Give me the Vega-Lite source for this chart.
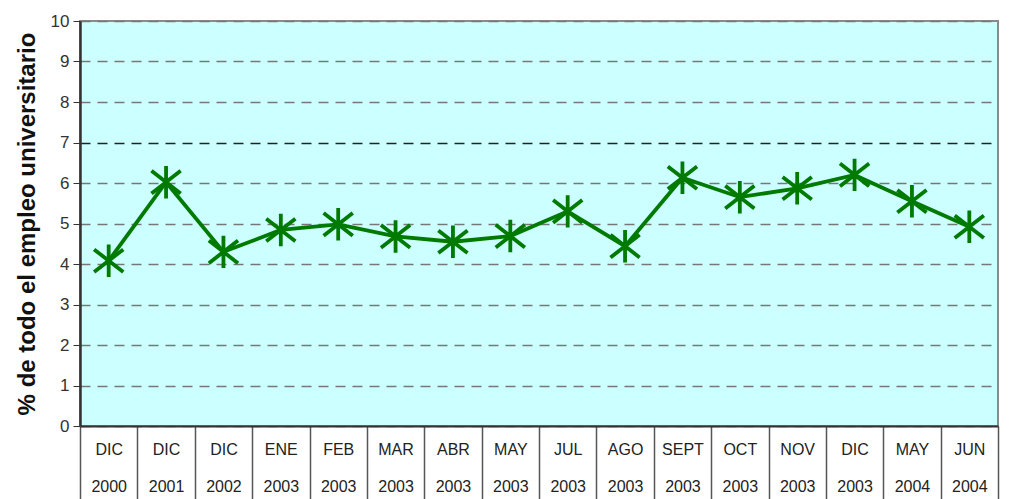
{
  "$schema": "https://vega.github.io/schema/vega-lite/v6.json",
  "width": 918,
  "height": 405,
  "autosize": {"type": "none"},
  "padding": {"left": 80, "top": 21, "right": 26, "bottom": 73},
  "background": "white",
  "config": {
    "view": {"fill": "#CCFFFF", "stroke": "#8a8a8a", "strokeWidth": 2},
    "font": "Liberation Sans"
  },
  "data": {
    "values": [
      {"periodo": "DIC|2000", "valor": 4.08},
      {"periodo": "DIC|2001", "valor": 6.02},
      {"periodo": "DIC|2002", "valor": 4.3},
      {"periodo": "ENE|2003", "valor": 4.84},
      {"periodo": "FEB|2003", "valor": 4.98},
      {"periodo": "MAR|2003", "valor": 4.68},
      {"periodo": "ABR|2003", "valor": 4.55},
      {"periodo": "MAY|2003", "valor": 4.69},
      {"periodo": "JUL|2003", "valor": 5.3},
      {"periodo": "AGO|2003", "valor": 4.44},
      {"periodo": "SEPT|2003", "valor": 6.13},
      {"periodo": "OCT|2003", "valor": 5.65},
      {"periodo": "NOV|2003", "valor": 5.87},
      {"periodo": "DIC|2003", "valor": 6.2},
      {"periodo": "MAY|2004", "valor": 5.55},
      {"periodo": "JUN|2004", "valor": 4.92}
    ]
  },
  "encoding": {
    "x": {
      "field": "periodo",
      "type": "nominal",
      "sort": null,
      "scale": {"paddingInner": 0, "paddingOuter": 0},
      "axis": {
        "title": null,
        "labelAngle": 0,
        "labelExpr": "split(datum.label, '|')",
        "labelFontSize": 16,
        "labelColor": "#222",
        "labelBaseline": "top",
        "labelPadding": -58,
        "labelLineHeight": 37,
        "tickBand": "extent",
        "tickSize": 73,
        "tickColor": "#555",
        "tickWidth": 1.5,
        "domainColor": "#333",
        "domainWidth": 2,
        "grid": false
      }
    },
    "y": {
      "field": "valor",
      "type": "quantitative",
      "scale": {"domain": [0, 10], "nice": false},
      "axis": {
        "title": "% de todo el empleo universitario",
        "titleFontSize": 24,
        "titleFontWeight": "bold",
        "titleColor": "#111",
        "titlePadding": 11,
        "values": [0, 1, 2, 3, 4, 5, 6, 7, 8, 9, 10],
        "labelFontSize": 17,
        "labelColor": "#333",
        "labelPadding": 4,
        "tickSize": 7,
        "tickColor": "#333",
        "domainColor": "#333",
        "domainWidth": 2.5,
        "grid": true,
        "gridDash": [10, 7],
        "gridWidth": 1.5,
        "gridColor": {"condition": {"test": "datum.value == 7", "value": "#222"}, "value": "#777"}
      }
    }
  },
  "layer": [
    {
      "mark": {"type": "line", "color": "#007A00", "strokeWidth": 3.8}
    },
    {
      "mark": {
        "type": "point",
        "shape": "M0,-1L0,1M-0.9,-0.7L0.9,0.7M-0.9,0.7L0.9,-0.7",
        "size": 1050,
        "filled": false,
        "stroke": "#007A00",
        "strokeWidth": 3.8,
        "opacity": 1
      }
    }
  ]
}
